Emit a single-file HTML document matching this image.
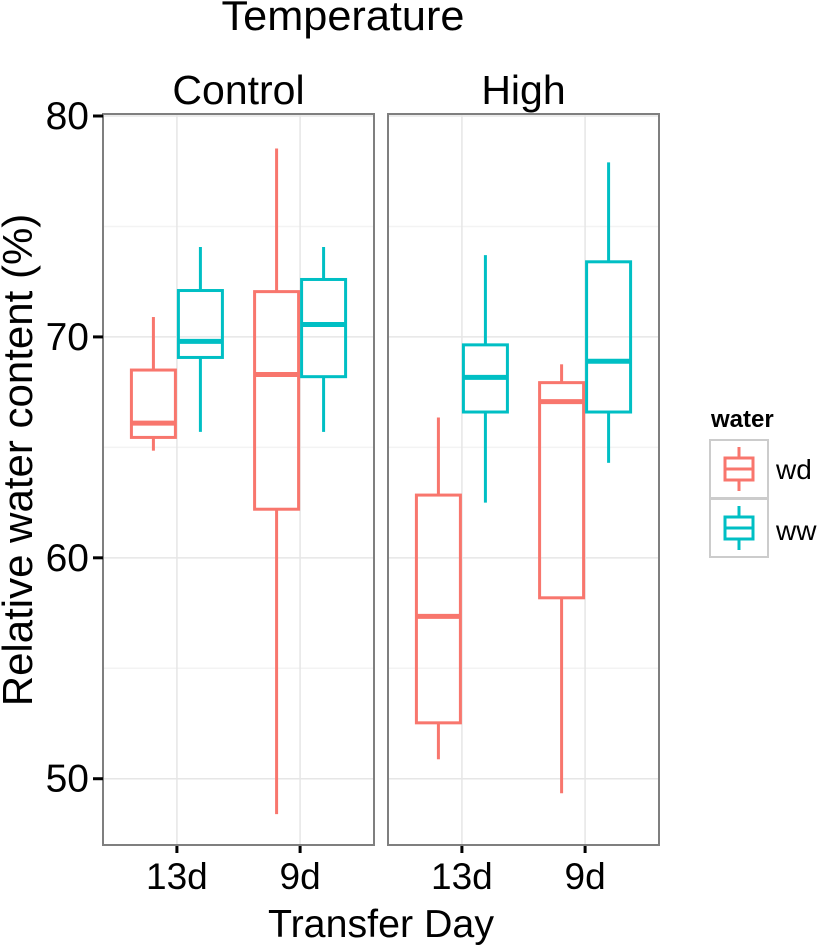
<!DOCTYPE html>
<html><head><meta charset="utf-8"><style>
body{margin:0;background:#fff}
svg text{font-family:"Liberation Sans",sans-serif;fill:#000}
</style></head><body>
<svg id="chart" width="837" height="945" viewBox="0 0 837 945" xmlns="http://www.w3.org/2000/svg">
<text x="343" y="30" font-size="42" text-anchor="middle" textLength="243" lengthAdjust="spacingAndGlyphs">Temperature</text>
<g id="panels"></g>
<text x="381" y="937" font-size="39" text-anchor="middle" textLength="226" lengthAdjust="spacingAndGlyphs">Transfer Day</text>
<text transform="translate(32,460) rotate(-90)" font-size="42" text-anchor="middle">Relative water content (%)</text>
<g>
<text x="711" y="427" font-size="24" font-weight="bold">water</text>
<rect x="710" y="440" width="58" height="58" fill="#fff" stroke="#ccc" stroke-width="2"/>
<g stroke="#F8766D" stroke-width="3" fill="#fff"><line x1="739" y1="447" x2="739" y2="491"/><rect x="725" y="458" width="28" height="22"/><line x1="725" y1="469" x2="753" y2="469"/></g>
<text x="776" y="479" font-size="28">wd</text>
<rect x="710" y="499" width="58" height="58" fill="#fff" stroke="#ccc" stroke-width="2"/>
<g stroke="#00BFC4" stroke-width="3" fill="#fff"><line x1="739" y1="506" x2="739" y2="550"/><rect x="725" y="517" width="28" height="22"/><line x1="725" y1="528" x2="753" y2="528"/></g>
<text x="776" y="540" font-size="28">ww</text>
</g>
</svg>
<script>
const panelNames = ["Control", "High"];
const categories = ["13d", "9d"];
const groups = ["wd", "ww"];
const colors = ["#F8766D", "#00BFC4"];
// [category] = [low, q1, median, q3, high]
const controlWd = [[64.85, 65.45, 66.1, 68.5, 70.9], [48.4, 62.2, 68.3, 72.05, 78.53]];
const controlWw = [[65.7, 69.07, 69.8, 72.1, 74.07], [65.7, 68.2, 70.56, 72.6, 74.07]];
const highWd = [[50.88, 52.53, 57.35, 62.84, 66.35], [49.34, 58.19, 67.07, 67.93, 68.76]];
const highWw = [[62.5, 66.6, 68.17, 69.64, 73.7], [64.3, 66.6, 68.9, 73.4, 77.9]];
const yTicks = [50, 60, 70, 80];
const yMinor = [55, 65, 75];
const data = [[controlWd, controlWw], [highWd, highWw]];

const NS = "http://www.w3.org/2000/svg";
const pg = document.getElementById("panels");
const panelLeft = [103, 388], panelW = 271, plotTop = 116, plotBottom = 845;
const yMin = 47.0, yMax = 80.0;
function yPos(v){ return plotBottom - (v - yMin) / (yMax - yMin) * (plotBottom - plotTop); }
// discrete scale: positions 1..n with 0.6 expansion each side
function xPos(p, c){ const n = categories.length; return panelLeft[p] + panelW * (c + 0.6) / (n - 1 + 1.2); }
function mk(tag, attrs, parent){ const e=document.createElementNS(NS,tag); for(const k in attrs) e.setAttribute(k,attrs[k]); (parent||pg).appendChild(e); return e; }
const bw = 47;

panelNames.forEach((pn, p) => {
  const L = panelLeft[p];
  const bg = mk("rect", {x:L, y:plotTop-2, width:panelW, height:plotBottom-plotTop+2, fill:"#fff"});
  
  
  yMinor.forEach(v => mk("line", {x1:L, x2:L+panelW, y1:yPos(v), y2:yPos(v), stroke:"#f3f3f3", "stroke-width":1.5}));
  yTicks.forEach(v => mk("line", {x1:L, x2:L+panelW, y1:yPos(v), y2:yPos(v), stroke:"#e6e6e6", "stroke-width":1.5}));
  categories.forEach((c, ci) => mk("line", {x1:xPos(p,ci), x2:xPos(p,ci), y1:plotTop-2, y2:plotBottom, stroke:"#e6e6e6", "stroke-width":1.5}));
  const st = mk("text", {x:L+panelW/2, y:104, "font-size":41, "text-anchor":"middle"});
  st.textContent = pn;
  
  
  categories.forEach((c, ci) => {
    groups.forEach((gr, gi) => {
      const s = data[p][gi][ci];
      const cx = xPos(p, ci) + (gi === 0 ? -bw/2 : bw/2);
      const bx = mk("g", {stroke:colors[gi], fill:"none", "stroke-width":3});
      
      
      mk("line", {x1:cx, x2:cx, y1:yPos(s[4]), y2:yPos(s[3])}, bx);
      mk("line", {x1:cx, x2:cx, y1:yPos(s[1]), y2:yPos(s[0])}, bx);
      mk("rect", {x:cx-bw/2+1.5, y:yPos(s[3]), width:bw-3, height:yPos(s[1])-yPos(s[3])}, bx);
      mk("line", {x1:cx-bw/2+1.5, x2:cx+bw/2-1.5, y1:yPos(s[2]), y2:yPos(s[2]), "stroke-width":5}, bx);
    });
    mk("line", {x1:xPos(p,ci), x2:xPos(p,ci), y1:plotBottom, y2:plotBottom+8, stroke:"#000", "stroke-width":3});
    const tl = mk("text", {x:xPos(p,ci), y:plotBottom+44, "font-size":37, "text-anchor":"middle"});
    tl.textContent = c;
    
    
  });
  mk("rect", {x:L, y:plotTop-2, width:panelW, height:plotBottom-plotTop+2, fill:"none", stroke:"#7f7f7f", "stroke-width":2});
});
yTicks.forEach(v => {
  mk("line", {x1:93, x2:103, y1:yPos(v), y2:yPos(v), stroke:"#000", "stroke-width":3});
  const t = mk("text", {x:89, y:yPos(v)+13, "font-size":39, "text-anchor":"end"});
  t.textContent = v;
  
  
});
</script>
</body></html>
